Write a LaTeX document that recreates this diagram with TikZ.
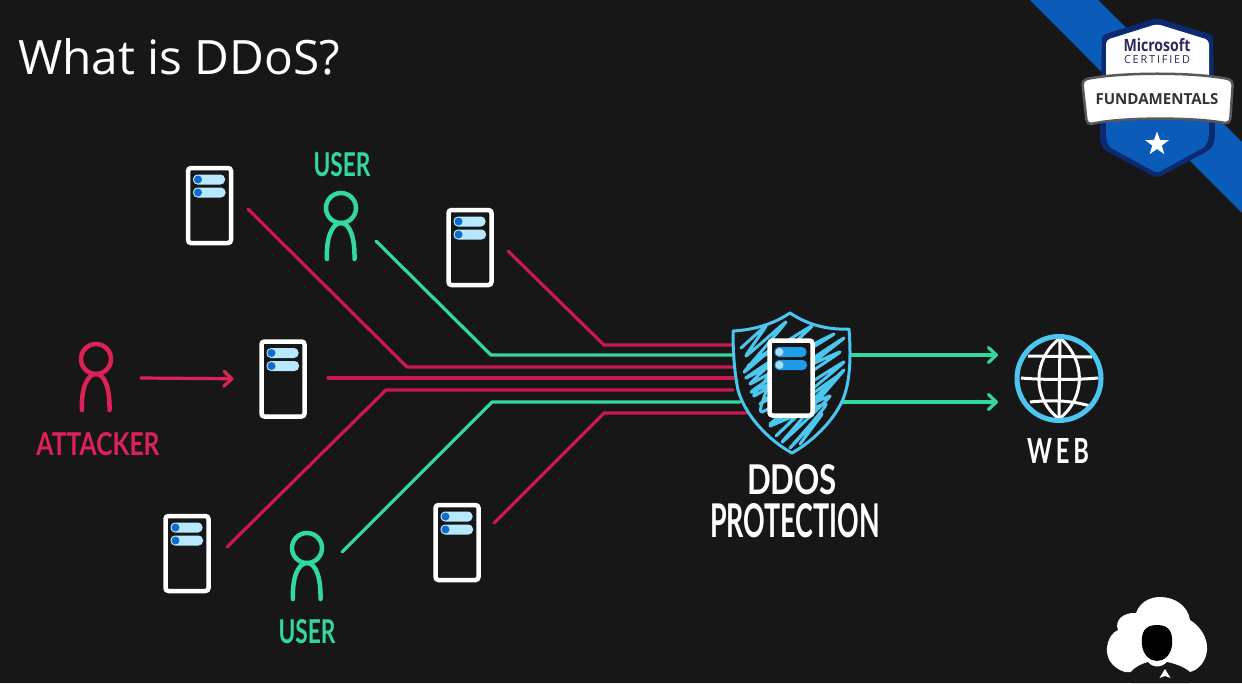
\documentclass[tikz,border=0pt]{standalone}
\usepackage{fontspec}
\usepackage{graphicx}
\usetikzlibrary{arrows.meta,shapes.geometric}
\setmainfont{Open Sans}
\newfontfamily\hand{Lato}
\newfontfamily\badgefont{Open Sans}
\definecolor{bgc}{HTML}{171717}
\definecolor{redc}{HTML}{CB1950}
\definecolor{redt}{HTML}{DE2259}
\definecolor{grn}{HTML}{33D8A0}
\definecolor{cyn}{HTML}{4BC6EE}
\definecolor{lbar}{HTML}{B8E8FE}
\definecolor{ldot}{HTML}{0F6CCB}
\definecolor{sbar}{HTML}{1F9BE8}
\definecolor{sdot}{HTML}{A8E0FA}
\definecolor{band}{HTML}{0A5CB8}
\definecolor{navy}{HTML}{0B2A70}
\definecolor{ink}{HTML}{2A2A5C}
\newcommand\fitbox[3]{\resizebox{#1pt}{#2pt}{#3}}
\tikzset{
  x=1pt,y=-1pt,
  serverbox/.style={draw=white,fill=bgc,line width=4.5pt,rounded corners=3pt,minimum width=43pt,minimum height=75pt,inner sep=0pt,outer sep=0pt},
  wire/.style={line width=3.2pt,line cap=round,line join=round},
  redwire/.style={wire,draw=redc},
  greenwire/.style={wire,draw=grn},
  tipped/.style={-{Straight Barb[length=8pt,width=15pt,line width=3.2pt,round]}},
  head/.style={circle,line width=4.5pt,minimum size=30pt,inner sep=0pt,outer sep=0pt},
  handlabel/.style={inner sep=0pt,outer sep=0pt,font=\hand\bfseries},
}
\newcommand\serverat[5]{%
  \node[serverbox] (#1) at (#2,#3) {};
  \begin{scope}[shift={(#2,#3)}]
    \fill[#4,rounded corners=4.5pt] (-16.5,-31) rectangle (15.5,-21);
    \fill[#4,rounded corners=4.5pt] (-16.5,-18) rectangle (16,-8);
    \fill[#5] (-11.5,-26) circle (4);
    \fill[#5] (-11.5,-13) circle (4);
  \end{scope}}
\newcommand\personat[4]{%
  \node[head,draw=#4] (#1) at (#2,#3) {};
  \begin{scope}[shift={(#2,#3)}]
    \draw[#4,line width=4.5pt,line cap=round] (-14,51) .. controls (-15,30) and (-9,15) .. (0,15) .. controls (9,15) and (14,30) .. (13.5,51);
  \end{scope}}
\begin{document}
\begin{tikzpicture}
\useasboundingbox (0,0) rectangle (1242,683);
\fill[bgc] (0,0) rectangle (1242,683);

% badge ribbon
\fill[band] (1030,0) -- (1098,0) -- (1242,142) -- (1242,213) -- cycle;
% badge
\fill[navy,rounded corners=4pt] (1157,18) -- (1102,35) -- (1100,130) .. controls (1100,142) and (1102,148) .. (1108,152) -- (1157,178) -- (1206,152) .. controls (1212,148) and (1215,142) .. (1215,130) -- (1213,35) -- cycle;
\fill[band,rounded corners=3pt] (1106,110) -- (1106,130) .. controls (1106,140) and (1108,146) .. (1113,149) -- (1157,173) -- (1201,149) .. controls (1206,146) and (1209,140) .. (1209,130) -- (1209,110) -- cycle;
\fill[white,rounded corners=4pt] (1157,24) -- (1106,40) -- (1106,85) -- (1209,85) -- (1209,40) -- cycle;
\draw[draw=gray!70!black,fill=white,line width=2.5pt,rounded corners=5pt] (1082,80) .. controls (1120,72) and (1195,72) .. (1233,80) -- (1230,124) .. controls (1195,117) and (1120,117) .. (1087,125) -- cycle;
\node[inner sep=0pt,text=ink,font=\badgefont\bfseries] (badgeMs) at (1157,45) {\fitbox{67}{13}{Microsoft}};
\node[inner sep=0pt,text=ink,font=\badgefont] (badgeCert) at (1157,60) {\fitbox{66}{8}{C\,E\,R\,T\,I\,F\,I\,E\,D}};
\node[inner sep=0pt,text=black!80,font=\badgefont\bfseries] (badgeFund) at (1157,99) {\fitbox{123}{11}{FUNDAMENTALS}};
\node[star,star points=5,star point ratio=2.5,fill=white,minimum size=25pt,inner sep=0pt] (badgeStar) at (1157,144) {};

% title
\node[anchor=base west,inner sep=0pt,text=white] (title) at (18,74) {\fitbox{322}{36}{What is DDoS?}};

% free ends of connectors
\coordinate (r1a) at (248,209);  \coordinate (r1b) at (407,367);  \coordinate (r1c) at (733,367);
\coordinate (g1a) at (376,241);  \coordinate (g1b) at (491,355);  \coordinate (g1c) at (733,355);
\coordinate (r2a) at (508,251);  \coordinate (r2b) at (604,345);  \coordinate (r2c) at (733,345);
\coordinate (r3a) at (328,378);  \coordinate (r3c) at (733,378);
\coordinate (r4a) at (227,547);  \coordinate (r4b) at (386,390);  \coordinate (r4c) at (733,390);
\coordinate (g2a) at (342,552);  \coordinate (g2b) at (492,402);  \coordinate (g2c) at (740,402);
\coordinate (r5a) at (494,523);  \coordinate (r5b) at (604,413);  \coordinate (r5c) at (746,413);
\coordinate (o1a) at (852,355);  \coordinate (o1c) at (998,355);
\coordinate (o2a) at (842,402);  \coordinate (o2c) at (998,402);
\coordinate (atkOut) at (141,378);

% connectors
\draw[redwire] (r1a) -- (r1b) -- (r1c);
\draw[greenwire] (g1a) -- (g1b) -- (g1c);
\draw[redwire] (r2a) -- (r2b) -- (r2c);
\draw[redwire] (r3a) -- (r3c);
\draw[redwire] (r4a) -- (r4b) -- (r4c);
\draw[greenwire] (g2a) -- (g2b) -- (g2c);
\draw[redwire] (r5a) -- (r5b) -- (r5c);
\draw[greenwire,tipped] (o1a) -- (o1c);
\draw[greenwire,tipped] (o2a) -- (o2c);

% servers
\serverat{srvA}{209.5}{205.5}{lbar}{ldot}
\serverat{srvB}{283}{379}{lbar}{ldot}
\serverat{srvC}{470}{247.5}{lbar}{ldot}
\serverat{srvD}{187}{553.5}{lbar}{ldot}
\serverat{srvE}{457}{542.5}{lbar}{ldot}
\draw[wire,draw=redt,tipped,shorten >=28pt] (atkOut) -- (srvB.west);

% people
\personat{atk}{96}{359}{redt}
\personat{userA}{341}{208}{grn}
\personat{userB}{307}{548}{grn}
\node[handlabel,text=redt] (atkLabel) at (98,444) {\fitbox{123}{23}{ATTACKER}};
\node[handlabel,text=grn] (userALabel) at (342,165) {\fitbox{57}{24}{USER}};
\node[handlabel,text=grn] (userBLabel) at (307,632) {\fitbox{57}{24}{USER}};

% shield
\begin{scope}
  \clip (733,331) .. controls (752,330) and (772,325) .. (790,313) .. controls (808,325) and (828,330) .. (849,329) .. controls (851,355) and (850,375) .. (846,390) .. controls (840,415) and (815,440) .. (792,453) .. controls (768,440) and (745,415) .. (738,390) .. controls (734,370) and (733,350) .. (733,331) -- cycle;
  \fill[bgc] (720,300) rectangle (860,460);
  \draw[cyn,line width=3pt,line join=round,line cap=round] plot[smooth,tension=0.3] coordinates {(741,348) (766,326) (746,356) (786,322) (744,372) (770,350) (748,366) (812,326) (750,384) (834,334) (746,378) (790,350) (754,396) (844,338) (760,404) (840,352) (752,392) (770,380) (762,412) (844,362) (770,424) (838,376) (776,436) (844,370) (782,442) (830,396) (770,426) (826,404) (790,448) (822,414) (800,444)};
\end{scope}
\draw[cyn,line width=3pt,line join=round] (733,331) .. controls (752,330) and (772,325) .. (790,313) .. controls (808,325) and (828,330) .. (849,329) .. controls (851,355) and (850,375) .. (846,390) .. controls (840,415) and (815,440) .. (792,453) .. controls (768,440) and (745,415) .. (738,390) .. controls (734,370) and (733,350) .. (733,331) -- cycle;
\serverat{srvF}{791}{378}{sbar}{sdot}
\node[handlabel,text=white] (ddosLabel) at (792,480) {\fitbox{90}{30}{DDOS}};
\node[handlabel,text=white] (protLabel) at (795,521) {\fitbox{170}{34}{PROTECTION}};

% globe
\node[circle,minimum size=84pt,inner sep=0pt,outer sep=0pt] (web) at (1059,378.5) {};
\draw[white,line width=3pt] (1060,338) -- (1059,419);
\draw[white,line width=3pt] (1060,338) .. controls (1032,360) and (1032,398) .. (1059,419);
\draw[white,line width=3pt] (1060,338) .. controls (1086,360) and (1086,398) .. (1059,419);
\draw[white,line width=3pt] (1028,356) -- (1092,357);
\draw[white,line width=3pt] (1021,378) .. controls (1045,380) and (1075,380) .. (1098,378);
\draw[white,line width=3pt] (1030,402) .. controls (1050,400) and (1070,400) .. (1090,406);
\draw[cyn,line width=5pt] (web.center) circle (42);
\node[handlabel,text=white] (webLabel) at (1058,451) {\fitbox{62}{25}{W\,E\,B}};

% logo
\fill[white] (1125,672) .. controls (1112,668) and (1106,658) .. (1107,648) .. controls (1108,638) and (1113,632) .. (1118,630) .. controls (1114,620) and (1124,612) .. (1136,613) .. controls (1140,602) and (1150,597) .. (1160,597) .. controls (1175,597) and (1188,606) .. (1190,620) .. controls (1200,626) and (1208,638) .. (1207,650) .. controls (1206,662) and (1198,670) .. (1190,672) -- cycle;
\fill[bgc] (1131,683) -- (1131,672) .. controls (1136,666) and (1142,664) .. (1148,662) .. controls (1152,668) and (1162,668) .. (1167,662) .. controls (1176,664) and (1184,667) .. (1190,672) -- (1190,683) -- cycle;
\fill[black] (1157,625) .. controls (1144,625) and (1141,633) .. (1142,645) .. controls (1143,655) and (1150,661) .. (1157,661) .. controls (1164,661) and (1171,655) .. (1172,645) .. controls (1173,633) and (1170,625) .. (1157,625) -- cycle;
\fill[white] (1165,669) -- (1159.5,678) -- (1165,676) -- (1170.5,678) -- cycle;
\end{tikzpicture}
\end{document}
